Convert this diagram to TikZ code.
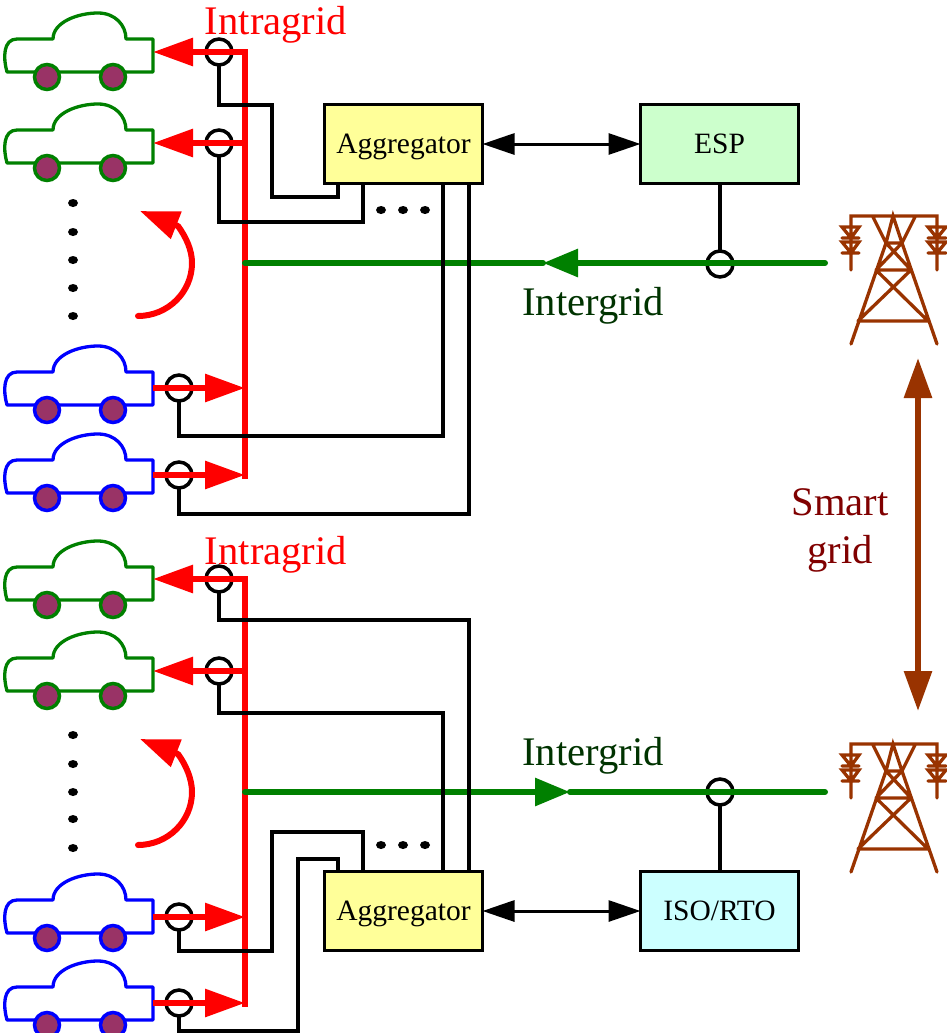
\documentclass[tikz,border=0pt]{standalone}
\usepackage{fontspec}
\setmainfont{Liberation Serif}
\usetikzlibrary{positioning,arrows.meta}
\definecolor{CarGreen}{HTML}{008000}
\definecolor{CarBlue}{HTML}{0000FF}
\definecolor{WheelPlum}{HTML}{993366}
\definecolor{AggYellow}{HTML}{FFFF99}
\definecolor{EspGreen}{HTML}{CCFFCC}
\definecolor{IsoCyan}{HTML}{CCFFFF}
\definecolor{InterDark}{HTML}{003300}
\definecolor{SmartDark}{HTML}{800000}
\definecolor{TowerBrown}{HTML}{993300}
\tikzset{
  pics/car/.style={code={
    \draw[draw=#1,line width=3.3pt,line join=round] (7,72) .. controls (3,58) and (3,39) .. (17,39) -- (53,39)
      .. controls (53,22) and (78,13) .. (98,13) .. controls (115,13) and (126,25) .. (126,39)
      -- (153,39) -- (153,72) -- cycle;
    \draw[draw=#1,fill=WheelPlum,line width=3.5pt] (47,77) circle (12.5pt);
    \draw[draw=#1,fill=WheelPlum,line width=3.5pt] (113,77) circle (12.5pt);
    \coordinate (-port) at (153,55);
  }},
  pics/tower/.style={code={
    \draw[draw=TowerBrown,line width=3.3pt,line cap=round] (71,80) -- (71,26) -- (157,26) -- (157,80)
      (62,37) -- (79,37) -- (71,48) -- cycle (62,48) -- (79,48)
      (62,52) -- (79,52) -- (71,63) -- cycle (62,63) -- (79,63)
      (148,37) -- (166,37) -- (157,48) -- cycle (148,48) -- (166,48)
      (148,52) -- (166,52) -- (157,63) -- cycle (148,63) -- (166,63)
      (71,154) -- (106,53) -- (93,27) (157,154) -- (122,53) -- (135,27)
      (106,53) -- (113,26) -- (122,53) -- cycle
      (96,80) -- (131,80) (78,131) -- (148,131)
      (106,53) -- (131,80) (122,53) -- (96,80)
      (96,80) -- (148,131) (131,80) -- (78,131);
    \coordinate (-feed) at (45,73);
  }}
}
\begin{document}
\begin{tikzpicture}[x=1pt,y=-1pt,>=stealth,node distance=158pt]
  \tikzstyle{busline}=[draw=red,line width=6pt,line cap=rect]
  \tikzstyle{tapline}=[draw=red,line width=6pt,-{Triangle[length=40pt,width=27pt]}]
  \tikzstyle{greenline}=[draw=CarGreen,line width=6pt,line cap=round]
  \tikzstyle{greenhead}=[greenline,-{Triangle[length=35pt,width=27pt]}]
  \tikzstyle{wire}=[draw=black,line width=3.5pt]
  \tikzstyle{link}=[draw=black,line width=3pt,{Triangle[length=32pt,width=21pt]}-{Triangle[length=32pt,width=21pt]}]
  \tikzstyle{sensor}=[draw=black,line width=3.5pt,circle,minimum size=26pt,inner sep=0pt,outer sep=0pt]
  \tikzstyle{unitbox}=[draw=black,line width=3.5pt,minimum width=158pt,minimum height=79pt,
    inner sep=0pt,outer sep=0pt,text height=20pt,text depth=2pt,font=\fontsize{29.5}{34}\selectfont]
  \tikzstyle{biglabel}=[inner sep=0pt,font=\fontsize{40.6}{48}\selectfont,align=center]
  \tikzstyle{swing}=[draw=red,line width=6pt,line cap=round]
  \tikzstyle{swinghead}=[draw=red,line width=6pt,-{Triangle[length=39pt,width=28pt]}]
  \useasboundingbox (0,0) rectangle (947,1033);
  % cars
  \pic (carA) at (0,0) {car=CarGreen};
  \pic (carB) at (0,91) {car=CarGreen};
  \pic (carC) at (0,333) {car=CarBlue};
  \pic (carD) at (0,421) {car=CarBlue};
  \pic (carE) at (0,528) {car=CarGreen};
  \pic (carF) at (0,619) {car=CarGreen};
  \pic (carG) at (0,861) {car=CarBlue};
  \pic (carH) at (0,948) {car=CarBlue};
  % towers
  \pic (towA) at (780,190) {tower};
  \pic (towB) at (780,718) {tower};
  % boxes
  \node[unitbox,fill=AggYellow] (aggA) at (403.5,144) {Aggregator};
  \node[unitbox,fill=EspGreen,right=of aggA] (esp) {ESP};
  \node[unitbox,fill=AggYellow] (aggB) at (403.5,911) {Aggregator};
  \node[unitbox,fill=IsoCyan,right=of aggB] (iso) {ISO/RTO};
  % sensors
  \node[sensor] (senA) at (219,52) {};
  \node[sensor] (senB) at (219,143) {};
  \node[sensor] (senC) at (179,388) {};
  \node[sensor] (senD) at (179,475) {};
  \node[sensor] (senE) at (219,579) {};
  \node[sensor] (senF) at (219,671) {};
  \node[sensor] (senG) at (179,917) {};
  \node[sensor] (senH) at (179,1003) {};
  \node[sensor] (senI) at (720,264) {};
  \node[sensor] (senJ) at (720,792) {};
  % red buses
  \coordinate (busAtop) at (245,52);
  \coordinate (busAend) at (245,476);
  \coordinate (busBtop) at (245,579);
  \coordinate (busBend) at (245,1004);
  \draw[busline] (busAtop) -- (busAend);
  \draw[busline] (busBtop) -- (busBend);
  \draw[tapline] (busAtop) -- (carA-port |- busAtop);
  \draw[tapline] (busAtop |- senB) -- (carB-port |- senB);
  \draw[tapline] (carC-port |- senC) -- (busAtop |- senC);
  \draw[tapline] (carD-port |- senD) -- (busAtop |- senD);
  \draw[tapline] (busBtop) -- (carE-port |- busBtop);
  \draw[tapline] (busBtop |- senF) -- (carF-port |- senF);
  \draw[tapline] (carG-port |- senG) -- (busBtop |- senG);
  \draw[tapline] (carH-port |- senH) -- (busBtop |- senH);
  % green feeders
  \coordinate (midA) at (543,263);
  \coordinate (midB) at (570,792);
  \draw[greenline] (midA) -- (busAtop |- midA);
  \draw[greenhead] (towA-feed |- midA) -- (midA);
  \draw[greenline] (midB) -- (towB-feed |- midB);
  \draw[greenhead] (busBtop |- midB) -- (midB);
  % wires
  \coordinate (aggA1) at (338,183);
  \coordinate (aggA2) at (363,183);
  \coordinate (aggA3) at (443,183);
  \coordinate (aggA4) at (469,183);
  \coordinate (aggB1) at (338,871);
  \coordinate (aggB2) at (363,871);
  \coordinate (aggB3) at (443,871);
  \coordinate (aggB4) at (469,871);
  \draw[wire] (senA.south) |- (272,105) |- (338,197) -- (aggA1);
  \draw[wire] (senB.south) |- (363,222) -- (aggA2);
  \draw[wire] (senC.south) |- (443,436) -- (aggA3);
  \draw[wire] (senD.south) |- (469,514) -- (aggA4);
  \draw[wire] (senE.south) |- (469,620) -- (aggB4);
  \draw[wire] (senF.south) |- (443,713) -- (aggB3);
  \draw[wire] (senG.south) |- (272,951) |- (363,832) -- (aggB2);
  \draw[wire] (senH.south) |- (298,1031) |- (338,859) -- (aggB1);
  \draw[wire] (esp.south -| senI) -- (senI.north);
  \draw[wire] (senJ.south) -- (iso.north -| senJ);
  \draw[link] (aggA) -- (esp);
  \draw[link] (aggB) -- (iso);
  % smart grid arrow
  \coordinate (towTop) at (918,358);
  \coordinate (towBot) at (918,711);
  \draw[draw=TowerBrown,line width=6pt,{Triangle[length=40pt,width=27pt]}-{Triangle[length=40pt,width=27pt]}] (towTop) -- (towBot);
  % curved arrows
  \coordinate (curA) at (138,316);
  \coordinate (bendA) at (192,263);
  \coordinate (neckA) at (178,226);
  \coordinate (tipA) at (140,211);
  \coordinate (curB) at (138,845);
  \coordinate (bendB) at (192,792);
  \coordinate (neckB) at (178,754);
  \coordinate (tipB) at (140,739);
  \draw[swing] (curA) .. controls (168,316) and (192,292) .. (bendA) .. controls (192,250) and (186,237) .. (neckA);
  \draw[swinghead] (neckA) -- (tipA);
  \draw[swing] (curB) .. controls (168,845) and (192,821) .. (bendB) .. controls (192,779) and (186,765) .. (neckB);
  \draw[swinghead] (neckB) -- (tipB);
  % dots
  \foreach \y in {203,232,260,288,316,735,764,792,819,848}
    \fill (73,\y) ellipse (5pt and 4pt);
  \foreach \x in {381,403,425}{
    \fill (\x,210) ellipse (5pt and 4pt);
    \fill (\x,845) ellipse (5pt and 4pt);
  }
  % labels
  \node[biglabel,text=red] (lblA) at (276,25) {Intragrid};
  \node[biglabel,text=red] (lblB) at (276,555) {Intragrid};
  \node[biglabel,text=InterDark] (lblC) at (593,306) {Intergrid};
  \node[biglabel,text=InterDark] (lblD) at (593,756) {Intergrid};
  \node[biglabel,text=SmartDark] (lblE) at (840,530) {Smart\\grid};
\end{tikzpicture}
\end{document}
